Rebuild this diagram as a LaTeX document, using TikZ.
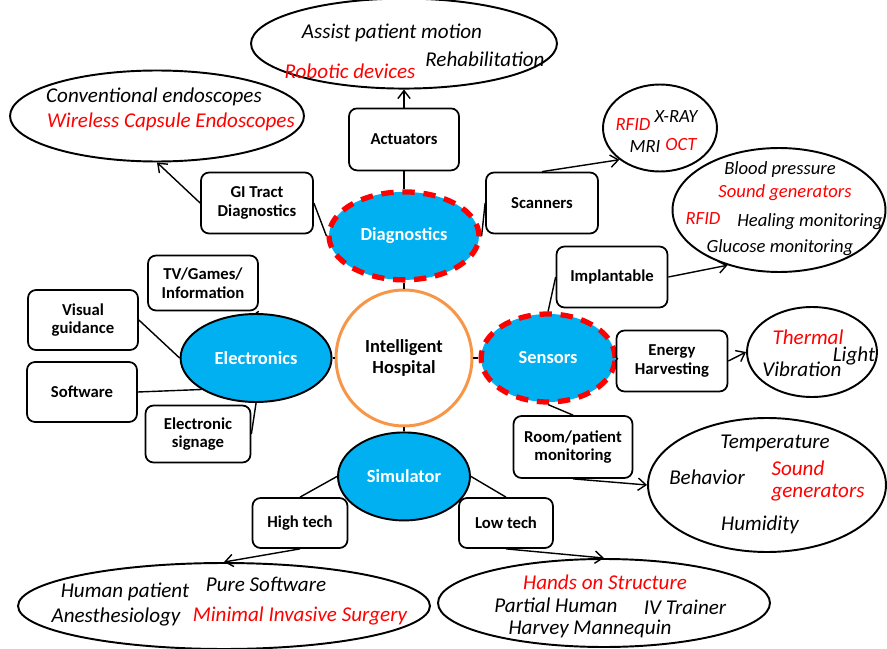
\documentclass[tikz,border=0pt]{standalone}
\usepackage{fontspec}
\setmainfont{Carlito}
\usetikzlibrary{shapes.geometric, arrows.meta, positioning}
\definecolor{hubcyan}{RGB}{0, 176, 240}
\definecolor{hubred}{RGB}{255, 0, 0}
\definecolor{hosporange}{RGB}{247, 150, 70}

\begin{document}
\begin{tikzpicture}[
    x=0.02cm, y=-0.02cm,
    hub/.style={ellipse, fill=hubcyan, text=white, font=\fontsize{10.5}{12}\selectfont\bfseries, minimum width=3cm, minimum height=1.76cm, inner sep=0pt},
    hubdash/.style={hub, draw=hubred, line width=3pt, dash pattern=on 7pt off 5pt},
    hubline/.style={hub, draw=black, line width=1.1pt},
    box/.style={draw, fill=white, rounded corners=1.6mm, line width=1pt, font=\fontsize{9.5}{10.5}\selectfont\bfseries, align=center, minimum width=2.2cm, minimum height=1.22cm, inner sep=2pt},
    bubble/.style={draw, ellipse, line width=1.1pt, inner sep=0pt},
    item/.style={font=\fontsize{12}{14}\selectfont\itshape, inner sep=0pt},
    hot/.style={item, text=hubred},
    small/.style={font=\fontsize{10.6}{12}\selectfont\itshape},
    link/.style={line width=0.8pt},
    arrow/.style={-{Straight Barb[length=4.5pt, width=7pt]}, line width=0.8pt}
]
\useasboundingbox (0,0) rectangle (887,649);

% Centre
\node (core) [circle, draw=hosporange, line width=1.7pt, minimum size=2.72cm, align=center, font=\fontsize{10.5}{12}\selectfont\bfseries] at (404,358) {Intelligent\\Hospital};

% 1. Diagnostics
\node (diag) [hubdash, above=0.12cm of core] {Diagnostics};
\node (act) [box, minimum height=1.24cm, above=0.36cm of diag] {Actuators};
\node (actB) [bubble, minimum width=6.12cm, minimum height=1.8cm, above=0.36cm of act] {};
\node (actT1) [item] at (392,33) {Assist patient motion};
\node (actT2) [item] at (485,59) {Rehabilitation};
\node (actT3) [hot] at (350,71) {Robotic devices};

\node (gi) [box, minimum width=2.24cm] at (257,203) {GI Tract\\Diagnostics};
\node (giB) [bubble, minimum width=5.88cm, minimum height=1.82cm] at (157,116) {};
\node (giT1) [item] at (154,97) {Conventional endoscopes};
\node (giT2) [hot] at (171,122) {Wireless Capsule Endoscopes};

\node (scan) [box, minimum width=2.24cm] at (542,203) {Scanners};
\node (scanB) [bubble, minimum width=2.28cm, minimum height=1.74cm] at (660,128) {};
\node (scanT1) [hot, small] at (633,125) {RFID};
\node (scanT2) [item, small] at (676,117) {X-RAY};
\node (scanT3) [item, small] at (645,147) {MRI};
\node (scanT4) [hot, small] at (681,145) {OCT};

% 2. Sensors
\node (sens) [hubdash, minimum width=2.68cm, right=0.1cm of core] {Sensors};
\node (impl) [box, minimum width=2.22cm] at (612,277) {Implantable};
\node (implB) [bubble, minimum width=4.26cm, minimum height=2.48cm] at (779,210) {};
\node (implT1) [item, small] at (780,170) {Blood pressure};
\node (implT2) [hot, small] at (785,193) {Sound generators};
\node (implT3) [hot, small] at (703,219) {RFID};
\node (implT4) [item, small] at (810,222) {Healing monitoring};
\node (implT5) [item, small] at (780,248) {Glucose monitoring};

\node (harv) [box, minimum width=2.22cm] at (672,361) {Energy\\Harvesting};
\node (harvB) [bubble, minimum width=2.6cm, minimum height=1.8cm] at (812,352) {};
\node (harvT1) [hot] at (808,337) {Thermal};
\node (harvT2) [item] at (854,356) {Light};
\node (harvT3) [item] at (802,369) {Vibration};

\node (room) [box, minimum width=2.38cm, minimum height=1.24cm] at (573,447) {Room/patient\\monitoring};
\node (roomB) [bubble, minimum width=4.76cm, minimum height=2.68cm] at (767,485) {};
\node (roomT1) [item] at (775,443) {Temperature};
\node (roomT2) [item] at (707,477) {Behavior};
\node (roomT3) [hot] at (798,468) {Sound};
\node (roomT4) [hot] at (818,493) {generators};
\node (roomT5) [item] at (760,525) {Humidity};

% 3. Electronics
\node (elec) [hubline, minimum width=3.02cm, left=0.04cm of core] {Electronics};
\node (tv) [box, minimum height=1.1cm] at (203,283) {TV/Games/\\Information};
\node (vis) [box, minimum height=1.2cm] at (83,320) {Visual\\guidance};
\node (soft) [box, minimum height=1.2cm] at (82,392) {Software};
\node (sig) [box, minimum width=2.1cm, minimum height=1.14cm] at (198,434) {Electronic\\signage};

% 4. Simulator
\node (simu) [hubline, minimum width=2.64cm, below=0.08cm of core] {Simulator};
\node (high) [box, minimum width=1.9cm, minimum height=1cm] at (300,523) {High tech};
\node (highB) [bubble, minimum width=8.24cm, minimum height=1.72cm] at (224,606) {};
\node (highT1) [item] at (125,592) {Human patient};
\node (highT2) [item] at (266,584) {Pure Software};
\node (highT3) [item] at (116,617) {Anesthesiology};
\node (highT4) [hot] at (300,616) {Minimal Invasive Surgery};

\node (low) [box, minimum width=1.88cm, minimum height=1cm] at (506,523) {Low tech};
\node (lowB) [bubble, minimum width=6.64cm, minimum height=1.76cm] at (604,603) {};
\node (lowT1) [hot] at (605,582) {Hands on Structure};
\node (lowT2) [item] at (556,605) {Partial Human};
\node (lowT3) [item] at (685,607) {IV Trainer};
\node (lowT4) [item] at (590,629) {Harvey Mannequin};

% Connectors
\draw [link] (diag) -- (core);
\draw [link] (core) -- (sens);
\draw [link] (core) -- (elec);
\draw [link] (core) -- (simu);
\draw [link] (diag) -- (act);
\draw [arrow] (act) -- (actB);
\draw [link] (gi.east) -- (diag.west);
\draw [arrow] (gi.west) -- (giB.south);
\draw [link] (diag.east) -- (scan.west);
\draw [arrow] (scan.north) -- (scanB.218);
\draw [link] (sens.north) -- (impl.west);
\draw [arrow] (impl.east) -- (implB.227);
\draw [link] (sens.east) -- (harv.west);
\draw [arrow] (harv.east) -- (harvB.west);
\draw [link] (sens.south) -- (room.north);
\draw [arrow] (room.south) -- (roomB.west);
\draw [link] (tv.south east) -- (elec.north);
\draw [link] (vis.east) -- (elec.west);
\draw [link] (soft.east) -- (elec.210);
\draw [link] (sig.east) -- (elec.south);
\draw [link] (simu.west) -- (high.north);
\draw [arrow] (high.south) -- (highB.north);
\draw [link] (simu.east) -- (low.north);
\draw [arrow] (low.south) -- (lowB.north);

\end{tikzpicture}
\end{document}
